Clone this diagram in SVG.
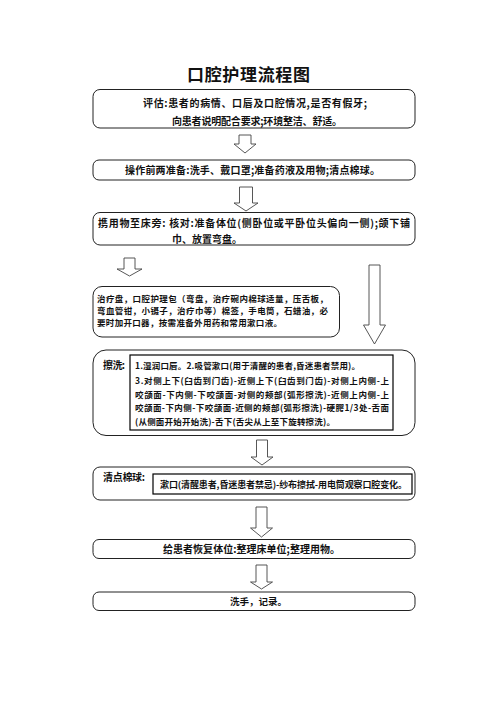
<svg xmlns="http://www.w3.org/2000/svg" width="496" height="702" viewBox="0 0 496 702">
<style>
.bg{fill:#fff}
.box{fill:#fff;stroke:#222;stroke-width:1}
.inner{fill:#fff;stroke:#000;stroke-width:1.2}
.arr{fill:#fff;stroke:#444;stroke-width:0.9;stroke-linejoin:miter}
text{font-family:"Noto Sans CJK SC","Noto Sans",sans-serif;font-weight:bold;fill:#111}
.t10{font-size:10px}
.t95{font-size:9.5px}
.t9{font-size:9px}
.t85{font-size:8.5px}
.title{font-size:17px;font-weight:bold}
</style>
<rect class="bg" x="0" y="0" width="496" height="702"/>
<text class="title" x="187" y="81" textLength="123">口腔护理流程图</text>

<g id="connectors">
<polygon class="arr" points="239,135 251,135 251,144 256,144 245,153 234,144 239,144"/>
<polygon class="arr" points="239.5,187 252.5,187 252.5,203 258,203 246,211 234,203 239.5,203"/>
<polygon class="arr" points="124,258 135,258 135,269 142,269 129.5,276 117,269 124,269"/>
<polygon class="arr" points="369,265 380,265 380,325 385.5,325 374.5,344 363.5,325 369,325"/>
<polygon class="arr" points="256.5,440 267.5,440 267.5,457 273,457 262,465 251,457 256.5,457"/>
<polygon class="arr" points="256,507 267,507 267,528 272.5,528 261.5,537 250.5,528 256,528"/>
<polygon class="arr" points="256,565 267,565 267,582 272.5,582 261.5,589 250.5,582 256,582"/>
</g>

<g id="n1">
<rect class="box" x="93" y="89.5" width="322" height="38.5" rx="7"/>
<text class="t10" x="143" y="106.5" textLength="224">评估:患者的病情、口唇及口腔情况,是否有假牙;</text>
<text class="t10" x="172" y="124.5" textLength="170">向患者说明配合要求;环境整洁、舒适。</text>
</g>

<g id="n2">
<rect class="box" x="93" y="160" width="322" height="20" rx="6"/>
<text class="t10" x="125" y="173.5" textLength="255">操作前两准备:洗手、戴口罩;准备药液及用物;清点棉球。</text>
</g>

<g id="n3">
<rect class="box" x="93" y="212.5" width="322" height="32.5" rx="7"/>
<text class="t10" x="98" y="226.5" textLength="312">携用物至床旁: 核对:准备体位(侧卧位或平卧位头偏向一侧);颌下铺</text>
<text class="t10" x="172" y="243">巾、放置弯盘。</text>
</g>

<g id="n4">
<rect class="box" x="93" y="286.5" width="246.5" height="50.5" rx="9"/>
<text class="t85" x="97" y="301.5" textLength="231">治疗盘，口腔护理包（弯盘，治疗碗内棉球适量，压舌板，</text>
<text class="t85" x="97" y="313.5" textLength="231">弯血管钳，小镊子，治疗巾等）棉签，手电筒，石蜡油，必</text>
<text class="t85" x="97" y="325.5" textLength="185">要时加开口器，按需准备外用药和常用漱口液。</text>
</g>

<g id="n5">
<rect class="box" x="93" y="350" width="322" height="85.5" rx="13"/>
<text class="t10" x="103" y="368.5" textLength="22">擦洗:</text>
<rect class="inner" x="130" y="355" width="263" height="75"/>
<text class="t85" x="135" y="369" textLength="225">1.湿润口唇。2.吸管漱口(用于清醒的患者,昏迷患者禁用)。</text>
<text class="t85" x="135" y="384" textLength="254">3.对侧上下(臼齿到门齿)-近侧上下(臼齿到门齿)-对侧上内侧-上</text>
<text class="t85" x="135" y="397.5" textLength="254">咬颌面-下内侧-下咬颌面-对侧的颊部(弧形擦洗)-近侧上内侧-上</text>
<text class="t85" x="135" y="411" textLength="254">咬颌面-下内侧-下咬颌面-近侧的颊部(弧形擦洗)-硬腭1/3处-舌面</text>
<text class="t85" x="135" y="424.5" textLength="200">(从侧面开始开始洗)-舌下(舌尖从上至下旋转擦洗)。</text>
</g>

<g id="n6">
<rect class="box" x="93" y="467" width="322" height="33" rx="7"/>
<text class="t10" x="103" y="480.5" textLength="42">清点棉球:</text>
<rect class="inner" x="153" y="474" width="259" height="20"/>
<text class="t9" x="160" y="488" textLength="247">漱口(清醒患者,昏迷患者禁忌)-纱布擦拭-用电筒观察口腔变化。</text>
</g>

<g id="n7">
<rect class="box" x="93" y="539.5" width="322" height="19" rx="6"/>
<text class="t10" x="163" y="552.5" textLength="177">给患者恢复体位:整理床单位;整理用物。</text>
</g>

<g id="n8">
<rect class="box" x="93" y="592" width="322" height="18.5" rx="6"/>
<text class="t95" x="230" y="604.5" textLength="57">洗手，记录。</text>
</g>
</svg>
